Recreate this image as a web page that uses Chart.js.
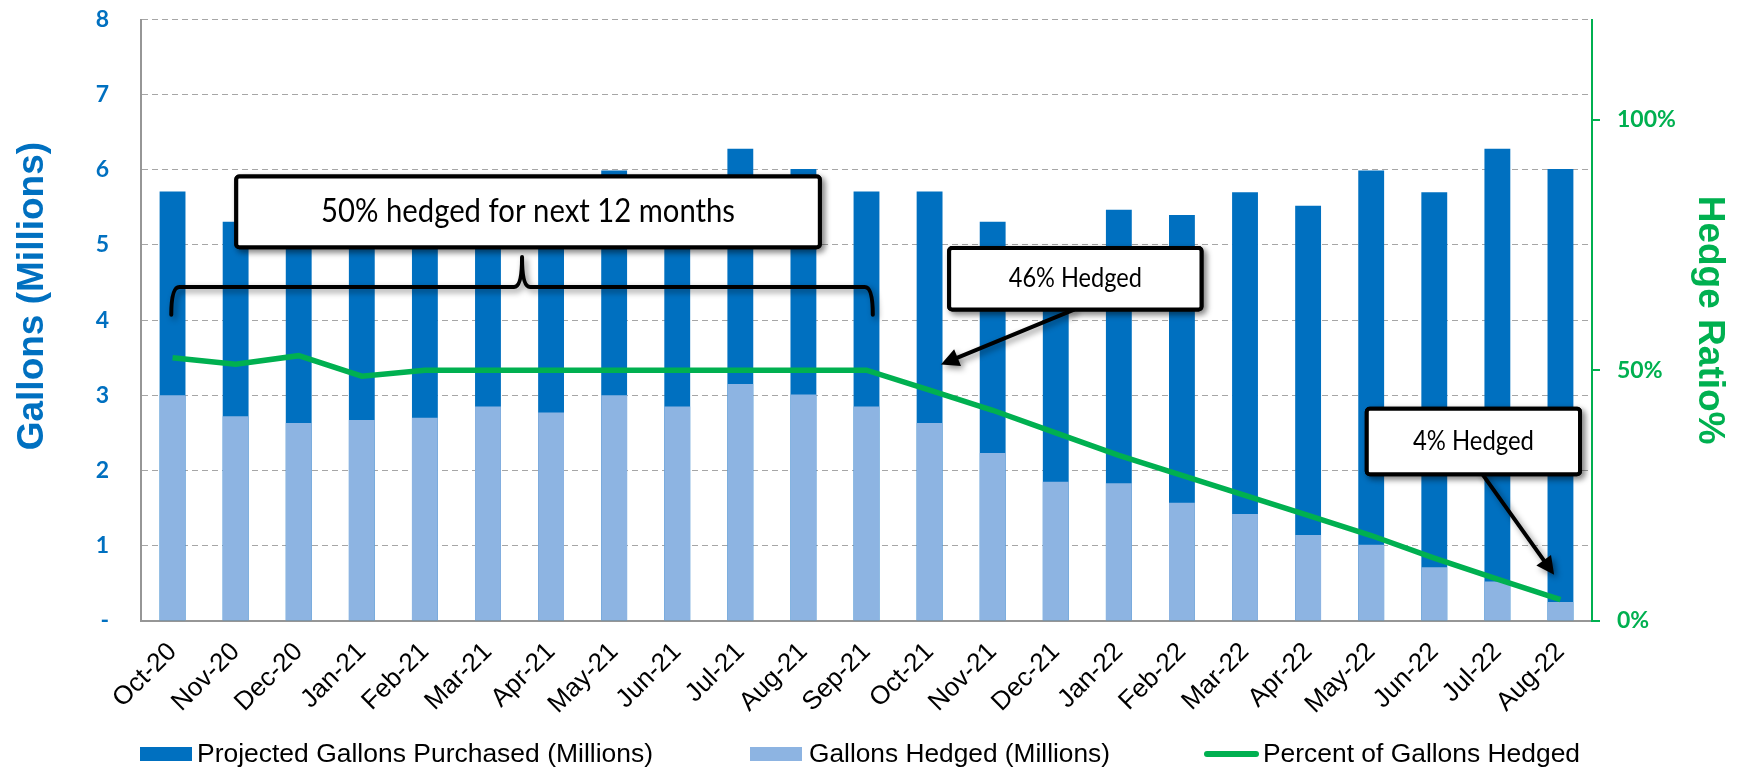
<!DOCTYPE html>
<html>
<head>
<meta charset="utf-8">
<script src="https://cdn.jsdelivr.net/npm/chart.js@4.4.0/dist/chart.umd.min.js"></script>
<style>
    html, body { margin: 0; padding: 0; background: #fff; }
    #wrap { width: 1745px; height: 768px; position: relative; }
</style>
</head>
<body>
<div id="wrap"><canvas id="chart" width="1745" height="768"></canvas></div>
<script>
// Data
const months = ["Oct-20", "Nov-20", "Dec-20", "Jan-21", "Feb-21", "Mar-21", "Apr-21", "May-21", "Jun-21", "Jul-21", "Aug-21", "Sep-21",
    "Oct-21", "Nov-21", "Dec-21", "Jan-22", "Feb-22", "Mar-22", "Apr-22", "May-22", "Jun-22", "Jul-22", "Aug-22"];
const projectedGallons = [5.71, 5.31, 4.97, 5.47, 5.40, 5.70, 5.52, 5.99, 5.70, 6.28, 6.01, 5.71,
    5.71, 5.31, 4.93, 5.47, 5.40, 5.70, 5.52, 5.99, 5.70, 6.28, 6.01];
const hedgedGallons = [3.00, 2.72, 2.63, 2.67, 2.70, 2.85, 2.77, 3.00, 2.85, 3.15, 3.01, 2.85,
    2.63, 2.23, 1.85, 1.83, 1.57, 1.42, 1.14, 1.01, 0.71, 0.52, 0.25];
const percentHedged = [52.5, 51.2, 52.9, 48.8, 50, 50, 50, 50, 50, 50, 50, 50,
    46, 42, 37.5, 33, 29, 25, 21, 17, 12.5, 8.3, 4.2];
const gallonTicks = [0, 1, 2, 3, 4, 5, 6, 7, 8];
const ratioTicks = [0, 50, 100];

// Callouts, placed in axis units (x = month index, y = gallons)
const noteBoxes = [
    { text: "50% hedged for next 12 months", x0: 1.01, x1: 10.26, y0: 5.91, y1: 4.97, size: 32, textWidth: 414 },
    { text: "46% Hedged", x0: 12.31, x1: 16.31, y0: 4.96, y1: 4.14, size: 26, textWidth: 133 },
    { text: "4% Hedged", x0: 18.93, x1: 22.31, y0: 2.82, y1: 1.95, size: 26, textWidth: 121 }
];
const noteArrows = [
    { from: [14.29, 4.14], to: [12.18, 3.41] },
    { from: [20.72, 2.00], to: [21.90, 0.61] }
];
const brace = { x0: -0.02, x1: 11.1, y: 4.44, yEnd: 4.07, yTip: 4.84 };

const DARK = "#0070C0", LIGHT = "#8DB4E2", GREEN = "#00B050", GRID = "#A6A6A6";
const leftTitle = "Gallons (Millions)";

let fitText = (ctx, text, cx, cy, width, font) => {
    ctx.font = font;
    let w = ctx.measureText(text).width,
        s = Math.min(1.2, Math.max(0.8, width / w));
    ctx.save();
    ctx.translate(cx, cy);
    ctx.scale(s, 1);
    ctx.fillText(text, 0, 0);
    ctx.restore();
};

const callouts = {
    id: "callouts",
    afterDatasetsDraw(chart) {
        const { ctx, scales: { x, y } } = chart;
        const px = v => x.getPixelForValue(v), py = v => y.getPixelForValue(v);
        ctx.save();
        ctx.strokeStyle = "#000";
        ctx.fillStyle = "#000";
        ctx.lineWidth = 4;
        ctx.lineJoin = "round";
        ctx.lineCap = "round";
        ctx.shadowColor = "rgba(0,0,0,0.45)";
        ctx.shadowBlur = 6;
        ctx.shadowOffsetX = 3;
        ctx.shadowOffsetY = 3;

        // curly brace over the first 12 months
        let l = px(brace.x0), r = px(brace.x1), c = (l + r) / 2,
            ym = py(brace.y), ye = py(brace.yEnd), yt = py(brace.yTip), k = 8;
        ctx.beginPath();
        ctx.moveTo(l, ye);
        ctx.quadraticCurveTo(l, ym, l + k, ym);
        ctx.lineTo(c - k, ym);
        ctx.quadraticCurveTo(c, ym, c, yt);
        ctx.quadraticCurveTo(c, ym, c + k, ym);
        ctx.lineTo(r - k, ym);
        ctx.quadraticCurveTo(r, ym, r, ye);
        ctx.stroke();

        // arrows
        noteArrows.forEach(a => {
            let x1 = px(a.from[0]), y1 = py(a.from[1]), x2 = px(a.to[0]), y2 = py(a.to[1]),
                ang = Math.atan2(y2 - y1, x2 - x1), head = 18, half = 9;
            let bx = x2 - head * Math.cos(ang), by = y2 - head * Math.sin(ang);
            ctx.beginPath();
            ctx.moveTo(x1, y1);
            ctx.lineTo(bx, by);
            ctx.stroke();
            ctx.beginPath();
            ctx.moveTo(x2, y2);
            ctx.lineTo(bx + half * Math.sin(ang), by - half * Math.cos(ang));
            ctx.lineTo(bx - half * Math.sin(ang), by + half * Math.cos(ang));
            ctx.closePath();
            ctx.fill();
        });

        // text boxes
        noteBoxes.forEach(b => {
            let bl = px(b.x0), br = px(b.x1), bt = py(b.y0), bb = py(b.y1);
            ctx.shadowColor = "rgba(0,0,0,0.45)";
            ctx.beginPath();
            ctx.roundRect(bl, bt, br - bl, bb - bt, 3);
            ctx.fillStyle = "#fff";
            ctx.fill();
            ctx.stroke();
            ctx.shadowColor = "transparent";
            ctx.beginPath();
            ctx.roundRect(bl, bt, br - bl, bb - bt, 3);
            ctx.fill();
            ctx.stroke();
            ctx.fillStyle = "#000";
            ctx.textAlign = "center";
            ctx.textBaseline = "middle";
            fitText(ctx, b.text, (bl + br) / 2, (bt + bb) / 2, b.textWidth, b.size + "px Lato");
        });
        ctx.restore();
    }
};

// Legend drawn under the axis labels, spaced like the original
const legendSlots = [
    { key: 0, left: 140, textX: 197, textWidth: 456 },
    { key: 1, left: 750, textX: 809, textWidth: 301 },
    { key: 2, left: 1204, textX: 1263, textWidth: 317 }
];
const bottomLegend = {
    id: "bottomLegend",
    afterDraw(chart) {
        const ctx = chart.ctx, ds = chart.data.datasets, cy = 754;
        ctx.save();
        legendSlots.forEach(s => {
            let d = ds[s.key];
            if (d.type == "line") {
                ctx.strokeStyle = d.borderColor;
                ctx.lineWidth = 6;
                ctx.lineCap = "round";
                ctx.beginPath();
                ctx.moveTo(s.left + 3, cy);
                ctx.lineTo(s.left + 52, cy);
                ctx.stroke();
            } else {
                ctx.fillStyle = d.backgroundColor;
                ctx.fillRect(s.left, cy - 7, 52, 14);
            }
            ctx.fillStyle = "#000";
            ctx.textAlign = "left";
            ctx.textBaseline = "middle";
            ctx.font = "26px 'Liberation Sans', Arial";
            let w = ctx.measureText(d.label).width;
            ctx.save();
            ctx.translate(s.textX, cy + 1);
            ctx.scale(Math.min(1.15, Math.max(0.85, s.textWidth / w)), 1);
            ctx.fillText(d.label, 0, 0);
            ctx.restore();
        });

        // left axis title sits a little above the plot's middle in the original
        const area = chart.chartArea;
        ctx.save();
        ctx.translate(33, (area.top + area.bottom) / 2 - 24);
        ctx.rotate(-Math.PI / 2);
        ctx.fillStyle = DARK;
        ctx.font = "bold 37px 'Liberation Sans', Arial";
        ctx.textAlign = "center";
        ctx.textBaseline = "middle";
        ctx.fillText(leftTitle, 0, 0);
        ctx.restore();
        ctx.restore();
    }
};

// keep the plot box where the original has it (no extra room for the top tick label)
let noVerticalPad = scale => {
    scale.paddingTop = 0;
    scale.paddingBottom = 0;
};

let config = {
    type: "bar",
    data: {
        labels: months,
        datasets: [
            {
                label: "Projected Gallons Purchased (Millions)",
                data: projectedGallons,
                backgroundColor: DARK,
                yAxisID: "y",
                grouped: false,
                barPercentage: 0.41,
                categoryPercentage: 1,
                order: 2
            },
            {
                label: "Gallons Hedged (Millions)",
                data: hedgedGallons,
                backgroundColor: LIGHT,
                yAxisID: "y",
                grouped: false,
                barPercentage: 0.41,
                categoryPercentage: 1,
                order: 1
            },
            {
                type: "line",
                label: "Percent of Gallons Hedged",
                data: percentHedged,
                borderColor: GREEN,
                backgroundColor: GREEN,
                borderWidth: 5.5,
                pointRadius: 0,
                tension: 0,
                yAxisID: "y2",
                order: 0
            }
        ]
    },
    options: {
        responsive: false,
        animation: false,
        layout: { padding: { top: 19.5, left: 0, right: 0, bottom: 0 } },
        plugins: {
            legend: { display: false },
            tooltip: { enabled: false }
        },
        scales: {
            x: {
                grid: { drawOnChartArea: false, drawTicks: false },
                border: { color: "#969696", width: 2 },
                ticks: {
                    color: "#000",
                    font: { family: "'Liberation Sans', Arial", size: 26 },
                    minRotation: 45,
                    maxRotation: 45,
                    autoSkip: false,
                    padding: 16
                },
                afterFit: scale => { scale.height = 147.3; }
            },
            y: {
                position: "left",
                min: 0,
                max: 8,
                afterBuildTicks: scale => { scale.ticks = gallonTicks.map(v => ({ value: v })); },
                grid: { color: GRID, lineWidth: 1, drawTicks: false },
                border: { color: "#969696", width: 2, dash: [6, 4] },
                ticks: {
                    color: DARK,
                    font: { family: "Lato", size: 23, weight: "bold" },
                    padding: 32,
                    callback: v => v == 0 ? "-" : v
                },
                afterFit: scale => { scale.width = 141; noVerticalPad(scale); }
            },
            y2: {
                position: "right",
                min: 0,
                max: 120,
                afterBuildTicks: scale => { scale.ticks = ratioTicks.map(v => ({ value: v })); },
                grid: { drawOnChartArea: false, color: GREEN, lineWidth: 2, tickLength: 8 },
                border: { color: GREEN, width: 2 },
                ticks: {
                    color: GREEN,
                    font: { family: "Lato", size: 23, weight: "bold" },
                    padding: 17,
                    callback: v => v + "%"
                },
                title: {
                    display: true,
                    text: "Hedge Ratio%",
                    color: GREEN,
                    font: { family: "'Liberation Sans', Arial", size: 37, weight: "bold" },
                    padding: { top: 14, bottom: 0 }
                },
                afterFit: scale => { scale.width = 153; noVerticalPad(scale); }
            }
        }
    },
    plugins: [callouts, bottomLegend]
};

let chart = new Chart(document.getElementById("chart"), config);
</script>
</body>
</html>
